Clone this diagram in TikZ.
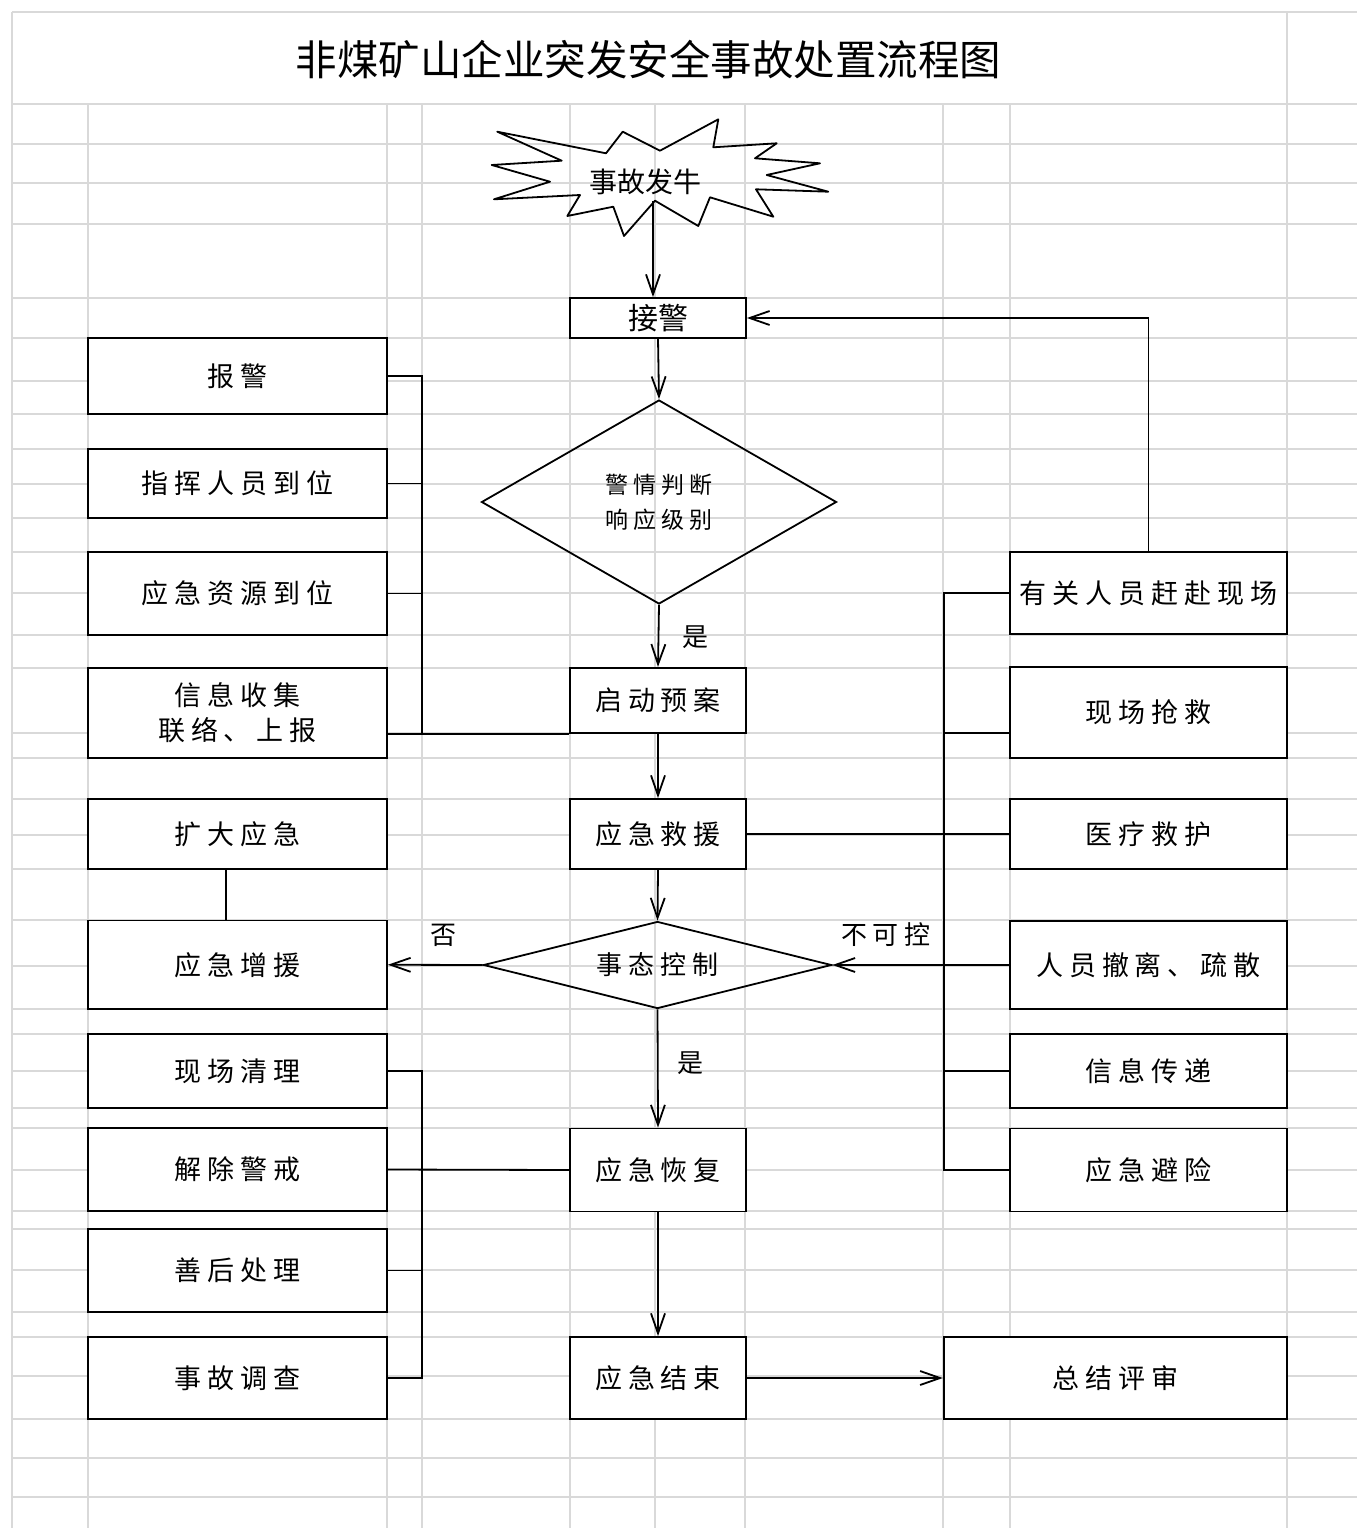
\documentclass[tikz,border=0pt]{standalone}
\usepackage{fontspec}
\usepackage{tikz}
\usetikzlibrary{arrows.meta,shapes.geometric}
\newfontfamily\cjk{Noto Sans CJK SC}
\newfontfamily\cjksp[LetterSpace=22]{Noto Sans CJK SC}
\definecolor{gridgray}{RGB}{217,217,217}

\begin{document}
\begin{tikzpicture}[x=1pt, y=-1pt, line width=1.8pt,
	>={Straight Barb[length=20pt,width=14pt]},
	gridline/.style={draw=gridgray, line width=1.5pt},
	box/.style={draw, rectangle, fill=white, inner sep=0pt, align=center, font=\cjksp\fontsize{27}{35}\selectfont},
	lbox/.style={box, minimum width=299pt, minimum height=#1},
	mbox/.style={box, minimum width=176pt, minimum height=#1},
	rbox/.style={box, minimum width=277pt, minimum height=#1},
	choice/.style={draw, diamond, inner sep=0pt, align=center},
	tag/.style={font=\cjksp\fontsize{26}{30}\selectfont}]
				\useasboundingbox (0,0) rectangle (1357,1528);
				% sheet grid
				\foreach \y in {12,104,144,183,224,298,338,381,414,449,484,518,552,593,635,668,733,758,799,835,869,920,966,1009,1034,1071,1108,1128,1170,1211,1229,1270,1312,1337,1376,1419,1458,1497}
					\draw[gridline] (12,\y) -- (1357,\y);
				\foreach \x in {12,1287}
					\draw[gridline] (\x,12) -- (\x,1528);
				\foreach \x in {88,387,422,570,655,745,943,1010}
					\draw[gridline] (\x,104) -- (\x,1528);
				\node[font=\cjk\fontsize{41.5}{46}\selectfont] (T) at (648.5,60) {非煤矿山企业突发安全事故处置流程图};
				% start
				\draw[line join=round] (497.3,131.7) -- (606,153.3) -- (622.7,131.7) -- (660,150.7) -- (718.3,119.3) -- (713.3,147.3) -- (776.7,143.3) -- (755,158.3) -- (820,163.3) -- (766.7,175) -- (828.3,191.7) -- (756,189.3) -- (773.3,216.7) -- (710,197.3) -- (698.3,226) -- (655,200.7) -- (624,236) -- (613.3,206.7) -- (567.3,216) -- (580,195) -- (494,199.3) -- (550,181.7) -- (491.7,165) -- (561.7,160.7) -- cycle;
				\node[font=\cjk\fontsize{28}{32}\selectfont] (SG) at (645,182) {事故发牛};
				\coordinate (SB) at (653,201);
				% middle column
				\node[mbox=40pt, font=\cjk\fontsize{30}{34}\selectfont] (JJ) at (658,318) {接警};
				\node[choice, aspect=1.7, minimum width=355pt, minimum height=204pt, font=\cjksp\fontsize{23}{35}\selectfont] (PD) at (659,502) {警情判断\\响应级别};
				\node[mbox=65.5pt] (QD) at (658,700.5) {启动预案};
				\node[mbox=70pt] (JY) at (658,834) {应急救援};
				\node[choice, aspect=4, minimum width=348pt, minimum height=87pt, font=\cjksp\fontsize{26}{30}\selectfont] (SK) at (657.5,965) {事态控制};
				\node[mbox=83pt] (HF) at (658,1170) {应急恢复};
				\node[mbox=82pt] (JS) at (658,1378) {应急结束};
				% left column
				\node[lbox=76pt] (BJ) at (237.5,376) {报警};
				\node[lbox=69pt] (ZH) at (237.5,483.5) {指挥人员到位};
				\node[lbox=83pt] (ZY) at (237.5,593.5) {应急资源到位};
				\node[lbox=90pt] (XX) at (237.5,713) {信息收集\\联络、上报};
				\node[lbox=70pt] (KD) at (237.5,834) {扩大应急};
				\node[lbox=88.5pt] (ZZ) at (237.5,964.75) {应急增援};
				\node[lbox=74pt] (XQ) at (237.5,1071) {现场清理};
				\node[lbox=83pt] (JC) at (237.5,1169.5) {解除警戒};
				\node[lbox=83pt] (SH) at (237.5,1270.5) {善后处理};
				\node[lbox=82pt] (DC) at (237.5,1378) {事故调查};
				% right column
				\node[rbox=82pt] (YG) at (1148.5,593) {有关人员赶赴现场};
				\node[rbox=91pt] (XC) at (1148.5,712.5) {现场抢救};
				\node[rbox=70pt] (YL) at (1148.5,834) {医疗救护};
				\node[rbox=88.5pt] (CL) at (1148.5,965) {人员撤离、疏散};
				\node[rbox=74pt] (XD) at (1148.5,1071) {信息传递};
				\node[rbox=83pt] (BX) at (1148.5,1170) {应急避险};
				\node[box, minimum width=343.3pt, minimum height=82pt] (ZJ) at (1115.35,1378) {总结评审};
				% labels
				\node[tag] (Y1) at (695,637) {是};
				\node[tag] (N1) at (443,935) {否};
				\node[tag] (Y2) at (690,1063) {是};
				\node[tag] (BK) at (886,935) {不可控};
				% main flow
				\draw[->] (SB) -- (SB |- JJ.north);
				\draw[->] (JJ.south) -- (PD.north);
				\draw[->] (PD.south) -- (QD.north);
				\draw[->] (QD.south) -- (JY.north);
				\draw[->] (JY.south) -- (SK.north);
				\draw[->] (SK.south) -- (HF.north);
				\draw[->] (HF.south) -- (JS.north);
				\draw[->] (JS.east) -- (ZJ.west);
				\draw[->] (SK.west) -- (ZZ.east);
				\draw[->] (CL.west) -- (SK.east);
				\draw[->] (YG.north) |- (JJ.east);
				\draw ([xshift=-11.5pt]KD.south) -- ([xshift=-11.5pt]ZZ.north);
				% side buses
				\coordinate (LB) at (422,0);
				\coordinate (RB) at (943.6,0);
				\draw (BJ.east) -| (LB |- QD.south west) -- (QD.south west);
				\draw (ZH.east) -- (ZH.east -| LB);
				\draw (ZY.east) -- (ZY.east -| LB);
				\draw (XX.east |- QD.south west) -- (LB |- QD.south west);
				\draw (XQ.east) -| (LB |- DC.east) -- (DC.east);
				\draw (JC.east) -- (HF.west);
				\draw (SH.east) -- (SH.east -| LB);
				\draw (YG.west) -| (RB |- BX.west) -- (BX.west);
				\draw ([yshift=-20.5pt]XC.west) -- ([yshift=-20.5pt]XC.west -| RB);
				\draw (YL.west) -- (JY.east);
				\draw (XD.west) -- (XD.west -| RB);
			\end{tikzpicture}
\end{document}
